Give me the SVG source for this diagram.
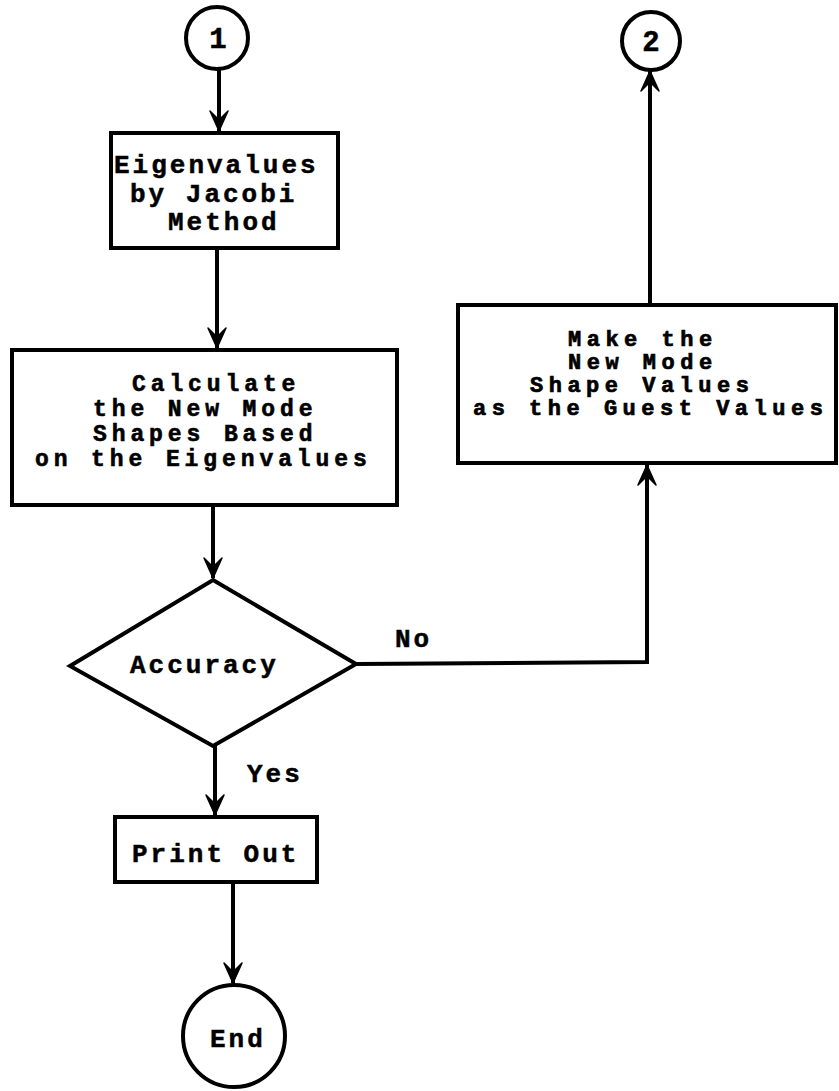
<svg xmlns="http://www.w3.org/2000/svg" width="839" height="1091" viewBox="0 0 839 1091">
<style>
.shape{fill:#fff;stroke:#000;stroke-width:4;stroke-linejoin:miter}
.conn{fill:none;stroke:#000;stroke-width:4}
text{font-family:"Liberation Mono","Courier New",monospace;font-weight:bold;font-size:26px;fill:#000;stroke:#000;stroke-width:0.5;letter-spacing:3px}
.c{text-anchor:middle;letter-spacing:0;font-size:29px}
.t{font-size:23px;letter-spacing:4.9px;stroke-width:0.6}
.s{font-size:22px;letter-spacing:5.5px;stroke-width:0.7}
</style>
<defs>
<marker id="arr" markerUnits="userSpaceOnUse" markerWidth="24" markerHeight="22" viewBox="-22 -11 24 22" refX="0" refY="0" orient="auto-start-reverse">
<path d="M0,0 L-20,-9 L-11,0 L-20,9 Z" fill="#000" stroke="#000" stroke-width="1.5" stroke-linejoin="round"/>
</marker>
</defs>
<rect width="839" height="1091" fill="#fff"/>
<g id="connectors">
<line class="conn" x1="219" y1="69" x2="219" y2="131" marker-end="url(#arr)"/>
<line class="conn" x1="217" y1="248" x2="217" y2="348" marker-end="url(#arr)"/>
<line class="conn" x1="213" y1="505" x2="213" y2="578" marker-end="url(#arr)"/>
<line class="conn" x1="215" y1="746" x2="215" y2="815" marker-end="url(#arr)"/>
<line class="conn" x1="233" y1="882" x2="233" y2="983" marker-end="url(#arr)"/>
<polyline class="conn" points="356,664 647,662 647,465" marker-end="url(#arr)"/>
<line class="conn" x1="650" y1="305" x2="650" y2="71" marker-end="url(#arr)"/>
<text x="395" y="647">No</text>
<text x="247" y="782">Yes</text>
</g>
<g id="start1">
<circle class="shape" cx="217" cy="38" r="31"/>
<text class="c" x="218" y="48">1</text>
</g>
<g id="jacobi">
<rect class="shape" x="111" y="133" width="227" height="115"/>
<text x="114" y="173">Eigenvalues</text>
<text x="130" y="202">by Jacobi</text>
<text x="168" y="230">Method</text>
</g>
<g id="calculate">
<rect class="shape" x="12" y="350" width="385" height="155"/>
<text class="t" x="132" y="391">Calculate</text>
<text class="t" x="93" y="416">the New Mode</text>
<text class="t" x="93" y="441">Shapes Based</text>
<text class="t" x="35" y="466">on the Eigenvalues</text>
</g>
<g id="accuracy">
<polygon class="shape" points="213,580 356,664 213,746 70,666"/>
<text x="130" y="673">Accuracy</text>
</g>
<g id="makeguest">
<rect class="shape" x="458" y="305" width="378" height="158"/>
<text class="s" x="568" y="346">Make the</text>
<text class="s" x="568" y="369">New Mode</text>
<text class="s" x="530" y="392">Shape Values</text>
<text class="s" x="473" y="415">as the Guest Values</text>
</g>
<g id="goto2">
<circle class="shape" cx="651" cy="41" r="29"/>
<text class="c" x="651" y="51">2</text>
</g>
<g id="printout">
<rect class="shape" x="115" y="817" width="202" height="65"/>
<text x="132" y="862">Print Out</text>
</g>
<g id="end">
<circle class="shape" cx="234" cy="1036" r="51"/>
<text x="210" y="1047">End</text>
</g>
</svg>
